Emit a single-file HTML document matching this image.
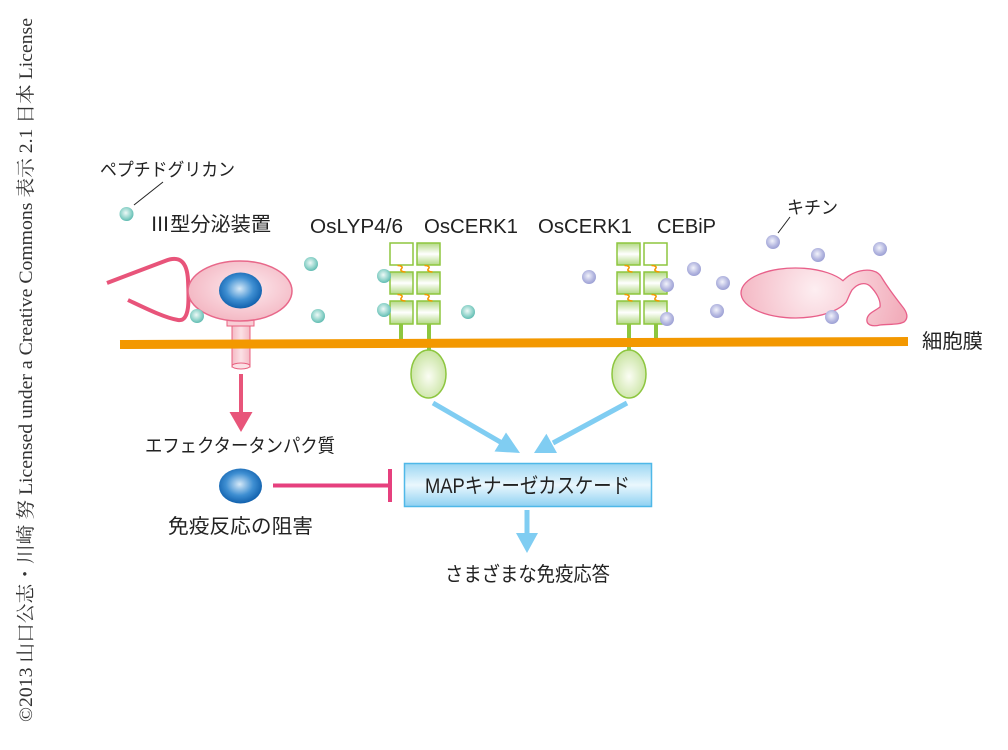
<!DOCTYPE html>
<html>
<head>
<meta charset="utf-8">
<style>
  html,body{margin:0;padding:0;background:#fff;}
  svg{display:block;}
  .ja{font-family:"Liberation Sans","Noto Sans CJK JP",sans-serif;fill:#222;}
  .la{font-family:"Liberation Sans","Noto Sans CJK JP",sans-serif;fill:#222;}
  .sf{font-family:"Liberation Serif","Noto Serif CJK SC",serif;fill:#333;}
</style>
</head>
<body>
<svg width="1008" height="750" viewBox="0 0 1008 750" xmlns="http://www.w3.org/2000/svg">
  <defs>
    <radialGradient id="teal" cx="45%" cy="42%" r="60%">
      <stop offset="0%" stop-color="#eef9f7"/>
      <stop offset="65%" stop-color="#8fd3ca"/>
      <stop offset="100%" stop-color="#5cb9af"/>
    </radialGradient>
    <radialGradient id="lav" cx="45%" cy="42%" r="60%">
      <stop offset="0%" stop-color="#f2f3fb"/>
      <stop offset="65%" stop-color="#b4b7e0"/>
      <stop offset="100%" stop-color="#9a9ed3"/>
    </radialGradient>
    <radialGradient id="pinkb" cx="55%" cy="45%" r="60%">
      <stop offset="0%" stop-color="#fdebef"/>
      <stop offset="100%" stop-color="#f3b5c1"/>
    </radialGradient>
    <radialGradient id="blue" cx="48%" cy="45%" r="58%">
      <stop offset="0%" stop-color="#d6e9f8"/>
      <stop offset="55%" stop-color="#3f8fd2"/>
      <stop offset="100%" stop-color="#0a5aa8"/>
    </radialGradient>
    <radialGradient id="greenO" cx="50%" cy="55%" r="60%">
      <stop offset="0%" stop-color="#fbfdf4"/>
      <stop offset="100%" stop-color="#c3e198"/>
    </radialGradient>
    <linearGradient id="greenB" x1="0" y1="0" x2="0" y2="1">
      <stop offset="0%" stop-color="#b3d985"/>
      <stop offset="50%" stop-color="#ffffff"/>
      <stop offset="100%" stop-color="#b3d985"/>
    </linearGradient>
    <linearGradient id="mapg" x1="0" y1="0" x2="0" y2="1">
      <stop offset="0%" stop-color="#9ad6f3"/>
      <stop offset="50%" stop-color="#eaf7fd"/>
      <stop offset="100%" stop-color="#8ed1f2"/>
    </linearGradient>
    <linearGradient id="tube" x1="0" y1="0" x2="1" y2="0">
      <stop offset="0%" stop-color="#f4b9c4"/>
      <stop offset="50%" stop-color="#fbe0e5"/>
      <stop offset="100%" stop-color="#f4b9c4"/>
    </linearGradient>
    <radialGradient id="fung" gradientUnits="userSpaceOnUse" cx="815" cy="290" r="90">
      <stop offset="0%" stop-color="#fdeef1"/>
      <stop offset="100%" stop-color="#f2adbb"/>
    </radialGradient>
  </defs>

  <!-- vertical copyright -->
  <text class="sf" font-size="19" transform="translate(32,722) rotate(-90)" textLength="704" lengthAdjust="spacingAndGlyphs">©2013 山口公志・川崎 努 Licensed under a Creative Commons 表示 2.1 日本 License</text>

  <!-- labels top -->
  <text class="ja" x="100" y="176" font-size="18" textLength="135" lengthAdjust="spacingAndGlyphs">ペプチドグリカン</text>
  <line x1="134" y1="205" x2="163" y2="182" stroke="#222" stroke-width="1"/>
  <text class="ja" x="150" y="231" font-size="20" textLength="121" lengthAdjust="spacingAndGlyphs">Ⅲ型分泌装置</text>
  <text class="la" x="310" y="233" font-size="20" textLength="93" lengthAdjust="spacingAndGlyphs">OsLYP4/6</text>
  <text class="la" x="424" y="233" font-size="20" textLength="94" lengthAdjust="spacingAndGlyphs">OsCERK1</text>
  <text class="la" x="538" y="233" font-size="20" textLength="94" lengthAdjust="spacingAndGlyphs">OsCERK1</text>
  <text class="la" x="657" y="233" font-size="20" textLength="59" lengthAdjust="spacingAndGlyphs">CEBiP</text>
  <text class="ja" x="787" y="214" font-size="18" textLength="51" lengthAdjust="spacingAndGlyphs">キチン</text>
  <line x1="778" y1="233" x2="790" y2="217" stroke="#222" stroke-width="1"/>

  <!-- flagellum -->
  <path d="M107,283 L165,261 C180,255 187,262 188,280 C189,300 190,322 178,320 C165,318 145,308 128,300" fill="none" stroke="#e8547a" stroke-width="4"/>

  <!-- T3SS tube -->
  <rect x="232" y="325" width="18" height="42" fill="url(#tube)" stroke="#e8607f" stroke-width="1"/>
  <ellipse cx="241" cy="366" rx="9" ry="3" fill="#fbe0e5" stroke="#e8607f" stroke-width="1"/>
  <rect x="227" y="320" width="27" height="6" fill="#f8cdd5" stroke="#e8607f" stroke-width="1"/>
  <ellipse cx="240" cy="291" rx="52" ry="30" fill="url(#pinkb)" stroke="#e8688a" stroke-width="1.5"/>
  <ellipse cx="240.5" cy="290.5" rx="21.5" ry="18" fill="url(#blue)"/>

  <!-- stems -->
  <g stroke="#8dc63f" stroke-width="4">
    <line x1="401" y1="324" x2="401" y2="342"/>
    <line x1="429" y1="324" x2="429" y2="352"/>
    <line x1="629" y1="324" x2="629" y2="352"/>
    <line x1="656" y1="324" x2="656" y2="342"/>
  </g>

  <!-- membrane -->
  <line x1="120" y1="344.5" x2="908" y2="341.5" stroke="#f39800" stroke-width="9"/>

  <!-- intracellular ovals -->
  <ellipse cx="428.5" cy="374" rx="17.5" ry="24" fill="url(#greenO)" stroke="#8dc63f" stroke-width="1.5"/>
  <ellipse cx="629" cy="374" rx="17" ry="24" fill="url(#greenO)" stroke="#8dc63f" stroke-width="1.5"/>

  <!-- receptor boxes -->
  <g stroke="#8dc63f" stroke-width="1.5">
    <rect x="390" y="243" width="23" height="22" fill="#fff"/>
    <rect x="390" y="272" width="23" height="22" fill="url(#greenB)"/>
    <rect x="390" y="301" width="23" height="23" fill="url(#greenB)"/>
    <rect x="417" y="243" width="23" height="22" fill="url(#greenB)"/>
    <rect x="417" y="272" width="23" height="22" fill="url(#greenB)"/>
    <rect x="417" y="301" width="23" height="23" fill="url(#greenB)"/>
    <rect x="617" y="243" width="23" height="22" fill="url(#greenB)"/>
    <rect x="617" y="272" width="23" height="22" fill="url(#greenB)"/>
    <rect x="617" y="301" width="23" height="23" fill="url(#greenB)"/>
    <rect x="644" y="243" width="23" height="22" fill="#fff"/>
    <rect x="644" y="272" width="23" height="22" fill="url(#greenB)"/>
    <rect x="644" y="301" width="23" height="23" fill="url(#greenB)"/>
  </g>
  <!-- squiggles -->
  <g fill="none" stroke="#f39800" stroke-width="1.6">
    <path d="M397.5,265.5 c3,0 6,1 4,3.2 c-2,2 1,3.3 4,3.3"/>
    <path d="M397.5,294.5 c3,0 6,1 4,3.2 c-2,2 1,3.3 4,3.3"/>
    <path d="M424.5,265.5 c3,0 6,1 4,3.2 c-2,2 1,3.3 4,3.3"/>
    <path d="M424.5,294.5 c3,0 6,1 4,3.2 c-2,2 1,3.3 4,3.3"/>
    <path d="M624.5,265.5 c3,0 6,1 4,3.2 c-2,2 1,3.3 4,3.3"/>
    <path d="M624.5,294.5 c3,0 6,1 4,3.2 c-2,2 1,3.3 4,3.3"/>
    <path d="M651.5,265.5 c3,0 6,1 4,3.2 c-2,2 1,3.3 4,3.3"/>
    <path d="M651.5,294.5 c3,0 6,1 4,3.2 c-2,2 1,3.3 4,3.3"/>
  </g>

  <!-- teal dots -->
  <g fill="url(#teal)">
    <circle cx="126.5" cy="214" r="7"/>
    <circle cx="197" cy="316" r="7"/>
    <circle cx="311" cy="264" r="7"/>
    <circle cx="318" cy="316" r="7"/>
    <circle cx="384" cy="276" r="7"/>
    <circle cx="384" cy="310" r="7"/>
    <circle cx="468" cy="312" r="7"/>
  </g>

  <!-- fungus (single outline) -->
  <path d="M843,280.7 C848,276 852,273 860,271 C868,269 878,270 882,278 C888,288 895,297 902,306 C907,312 909,318 904,322 C898,325 890,324 880,325 C872,327 866,325 867,319 C868,313 875,311 880,307 C881,300 876,292 870,286 C865,282 858,283 852,290 C849,295 848,299 846,302.4 A54.5,25 0 1,1 843,280.7 Z" fill="url(#fung)" stroke="#e8608a" stroke-width="1.3"/>

  <!-- lavender dots -->
  <g fill="url(#lav)">
    <circle cx="589" cy="277" r="7"/>
    <circle cx="667" cy="285" r="7"/>
    <circle cx="667" cy="319" r="7"/>
    <circle cx="694" cy="269" r="7"/>
    <circle cx="723" cy="283" r="7"/>
    <circle cx="717" cy="311" r="7"/>
    <circle cx="773" cy="242" r="7"/>
    <circle cx="818" cy="255" r="7"/>
    <circle cx="880" cy="249" r="7"/>
    <circle cx="832" cy="317" r="7"/>
  </g>

  <text class="ja" x="922" y="348" font-size="20" textLength="61" lengthAdjust="spacingAndGlyphs">細胞膜</text>

  <!-- pink arrow -->
  <line x1="241" y1="374" x2="241" y2="413" stroke="#e8557a" stroke-width="4"/>
  <polygon points="229.5,412 252.5,412 241,432" fill="#e8557a"/>

  <text class="ja" x="145" y="452" font-size="19" textLength="190" lengthAdjust="spacingAndGlyphs">エフェクタータンパク質</text>

  <ellipse cx="240.5" cy="486" rx="21.5" ry="17.5" fill="url(#blue)"/>
  <line x1="273" y1="485.5" x2="390" y2="485.5" stroke="#e6407e" stroke-width="4"/>
  <line x1="390" y1="469" x2="390" y2="502" stroke="#e6407e" stroke-width="4"/>

  <text class="ja" x="168" y="533" font-size="20" textLength="145" lengthAdjust="spacingAndGlyphs">免疫反応の阻害</text>

  <!-- blue arrows -->
  <line x1="433" y1="403" x2="502" y2="443" stroke="#80cdf2" stroke-width="5"/>
  <polygon points="520,453 494.5,451.5 506,432.5" fill="#80cdf2"/>
  <line x1="627" y1="403" x2="553" y2="443" stroke="#80cdf2" stroke-width="5"/>
  <polygon points="534,453 557,453 546.4,433.8" fill="#80cdf2"/>

  <!-- MAP box -->
  <rect x="404.5" y="463.5" width="247" height="43" fill="url(#mapg)" stroke="#4fb8e8" stroke-width="1.5"/>
  <text class="ja" x="425" y="493" font-size="21" textLength="205" lengthAdjust="spacingAndGlyphs">MAPキナーゼカスケード</text>

  <line x1="527" y1="510" x2="527" y2="535" stroke="#80cdf2" stroke-width="5"/>
  <polygon points="516,533 538,533 527,553" fill="#80cdf2"/>

  <text class="ja" x="445" y="581" font-size="20" textLength="165" lengthAdjust="spacingAndGlyphs">さまざまな免疫応答</text>
</svg>
</body>
</html>
